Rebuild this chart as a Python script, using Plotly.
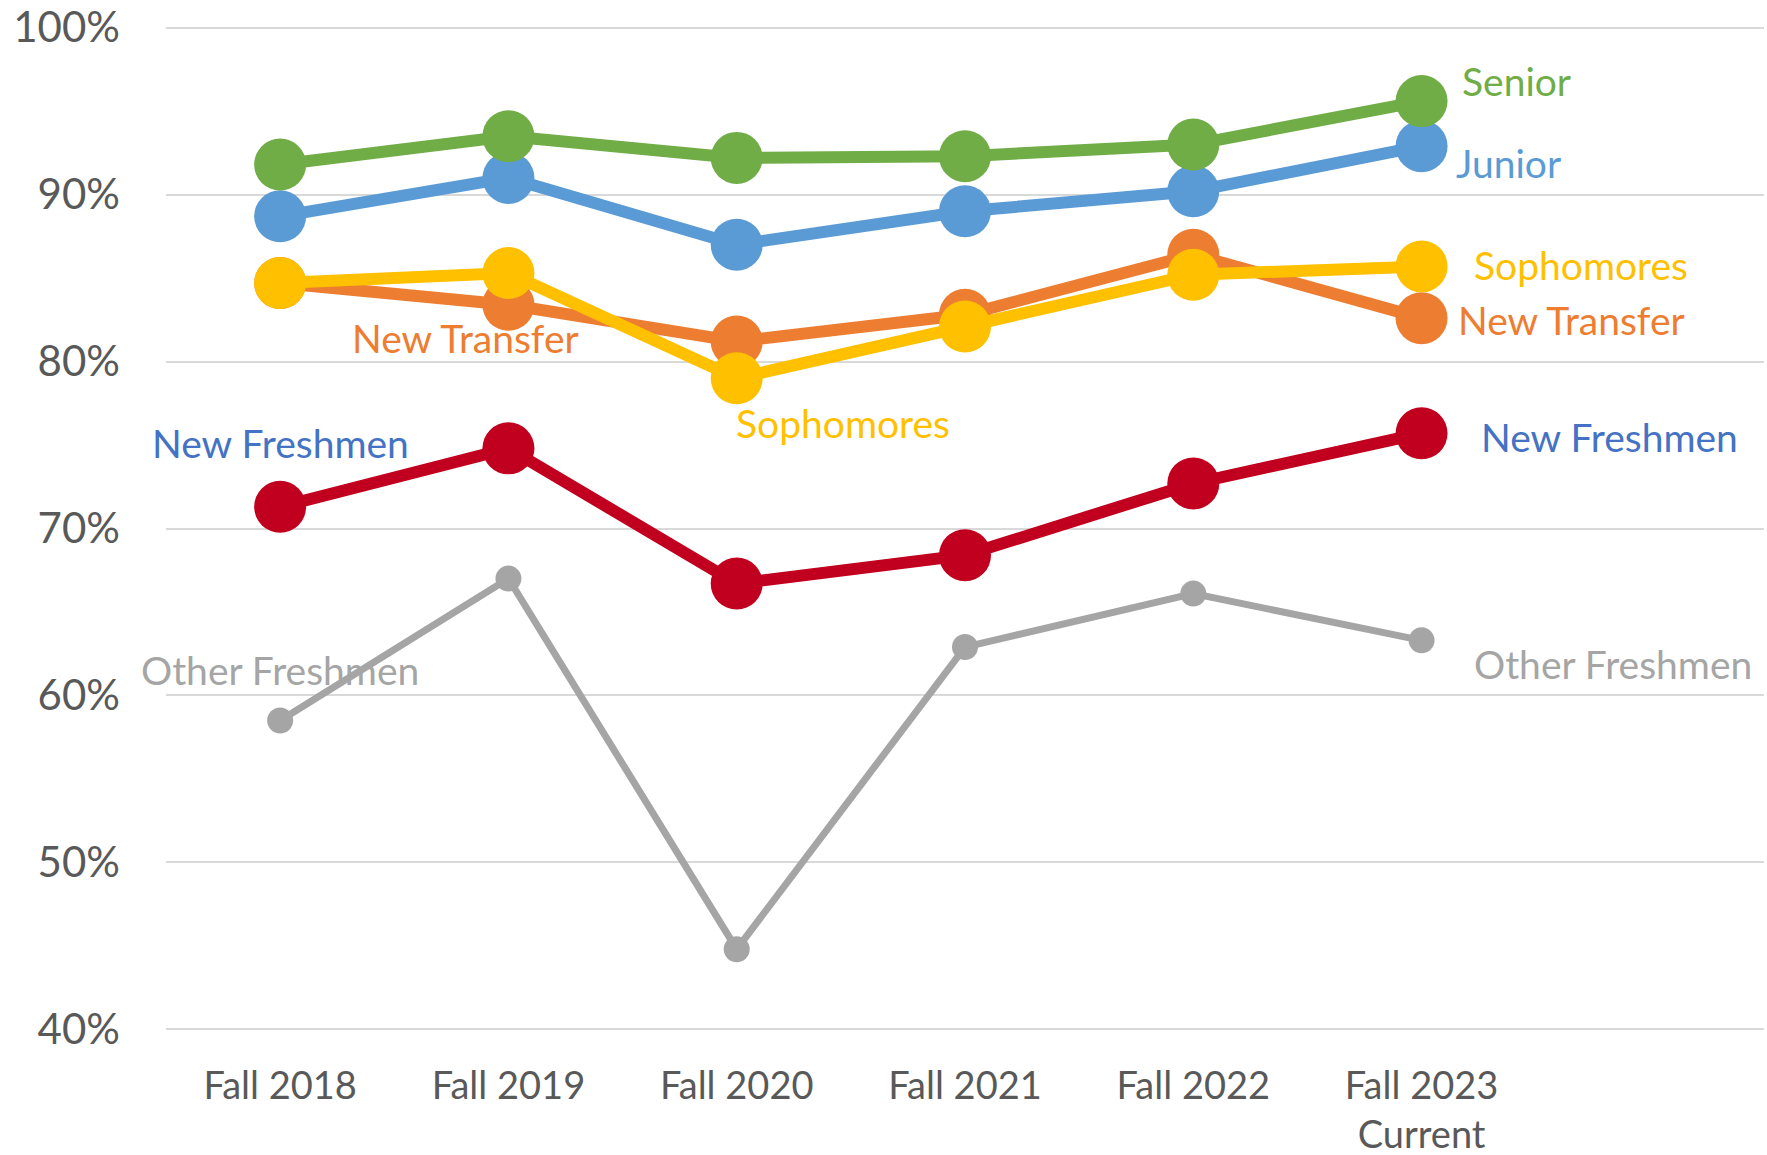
import plotly.graph_objects as go

categories = ["Fall 2018", "Fall 2019", "Fall 2020", "Fall 2021", "Fall 2022", "Fall 2023<br>Current"]

other_freshmen = [0.585, 0.670, 0.448, 0.629, 0.661, 0.633]
new_freshmen = [0.713, 0.748, 0.667, 0.684, 0.727, 0.757]
new_transfer = [0.847, 0.834, 0.812, 0.828, 0.864, 0.826]
sophomores = [0.847, 0.853, 0.790, 0.821, 0.852, 0.857]
junior = [0.887, 0.910, 0.870, 0.890, 0.902, 0.929]
senior = [0.918, 0.935, 0.922, 0.923, 0.930, 0.956]

FONT = "Lato"

series = [
    ("Other Freshmen", other_freshmen, "#A5A5A5", 7, 26),
    ("New Freshmen", new_freshmen, "#C0001E", 12, 52),
    ("New Transfer", new_transfer, "#ED7D31", 12, 52),
    ("Sophomores", sophomores, "#FFC000", 12, 52),
    ("Junior", junior, "#5B9BD5", 12, 52),
    ("Senior", senior, "#70AD47", 12, 52),
]

fig = go.Figure()
for name, vals, color, lw, ms in series:
    fig.add_trace(go.Scatter(
        x=categories, y=vals, name=name, mode="lines+markers",
        line=dict(color=color, width=lw),
        marker=dict(color=color, size=ms, line=dict(width=0)),
        showlegend=False, cliponaxis=False,
    ))

labels = [
    ("Senior", 5.17, 0.968, "left", "#70AD47"),
    ("Junior", 5.14, 0.919, "left", "#5B9BD5"),
    ("Sophomores", 5.22, 0.858, "left", "#FFC000"),
    ("New Transfer", 5.15, 0.825, "left", "#ED7D31"),
    ("New Freshmen", 5.25, 0.755, "left", "#4472C4"),
    ("Other Freshmen", 5.22, 0.619, "left", "#A5A5A5"),
    ("New Transfer", 0.81, 0.814, "center", "#ED7D31"),
    ("Sophomores", 1.99, 0.763, "left", "#FFC000"),
    ("New Freshmen", 0.0, 0.751, "center", "#4472C4"),
    ("Other Freshmen", 0.0, 0.615, "center", "#A5A5A5"),
]
for text, x, y, anchor, color in labels:
    fig.add_annotation(x=x, y=y, xref="x", yref="y", text=text, showarrow=False,
                       xanchor=anchor, yanchor="middle",
                       font=dict(family=FONT, size=39, color=color))

fig.update_layout(
    width=1767, height=1155,
    margin=dict(l=166, r=3, t=26, b=124),
    paper_bgcolor="white", plot_bgcolor="white",
    font=dict(family=FONT, size=38, color="#595959"),
)
fig.update_xaxes(
    type="category", range=[-0.5, 6.5], showgrid=False, showline=False,
    zeroline=False, ticks="", ticklabelstandoff=29, automargin=False,
    tickfont=dict(family=FONT, size=38, color="#595959"),
)
fig.update_yaxes(
    range=[0.399, 1.001], dtick=0.1, tick0=0, tickformat=".0%", showgrid=True,
    gridcolor="#D9D9D9", gridwidth=2, zeroline=False, showline=False,
    ticks="", ticklabelstandoff=45, automargin=False, ticklabeloverflow="allow",
    tickfont=dict(family=FONT, size=42, color="#595959"),
)

fig.write_html("out.html", config={"displayModeBar": False},
               post_script="document.body.style.margin='0';")
